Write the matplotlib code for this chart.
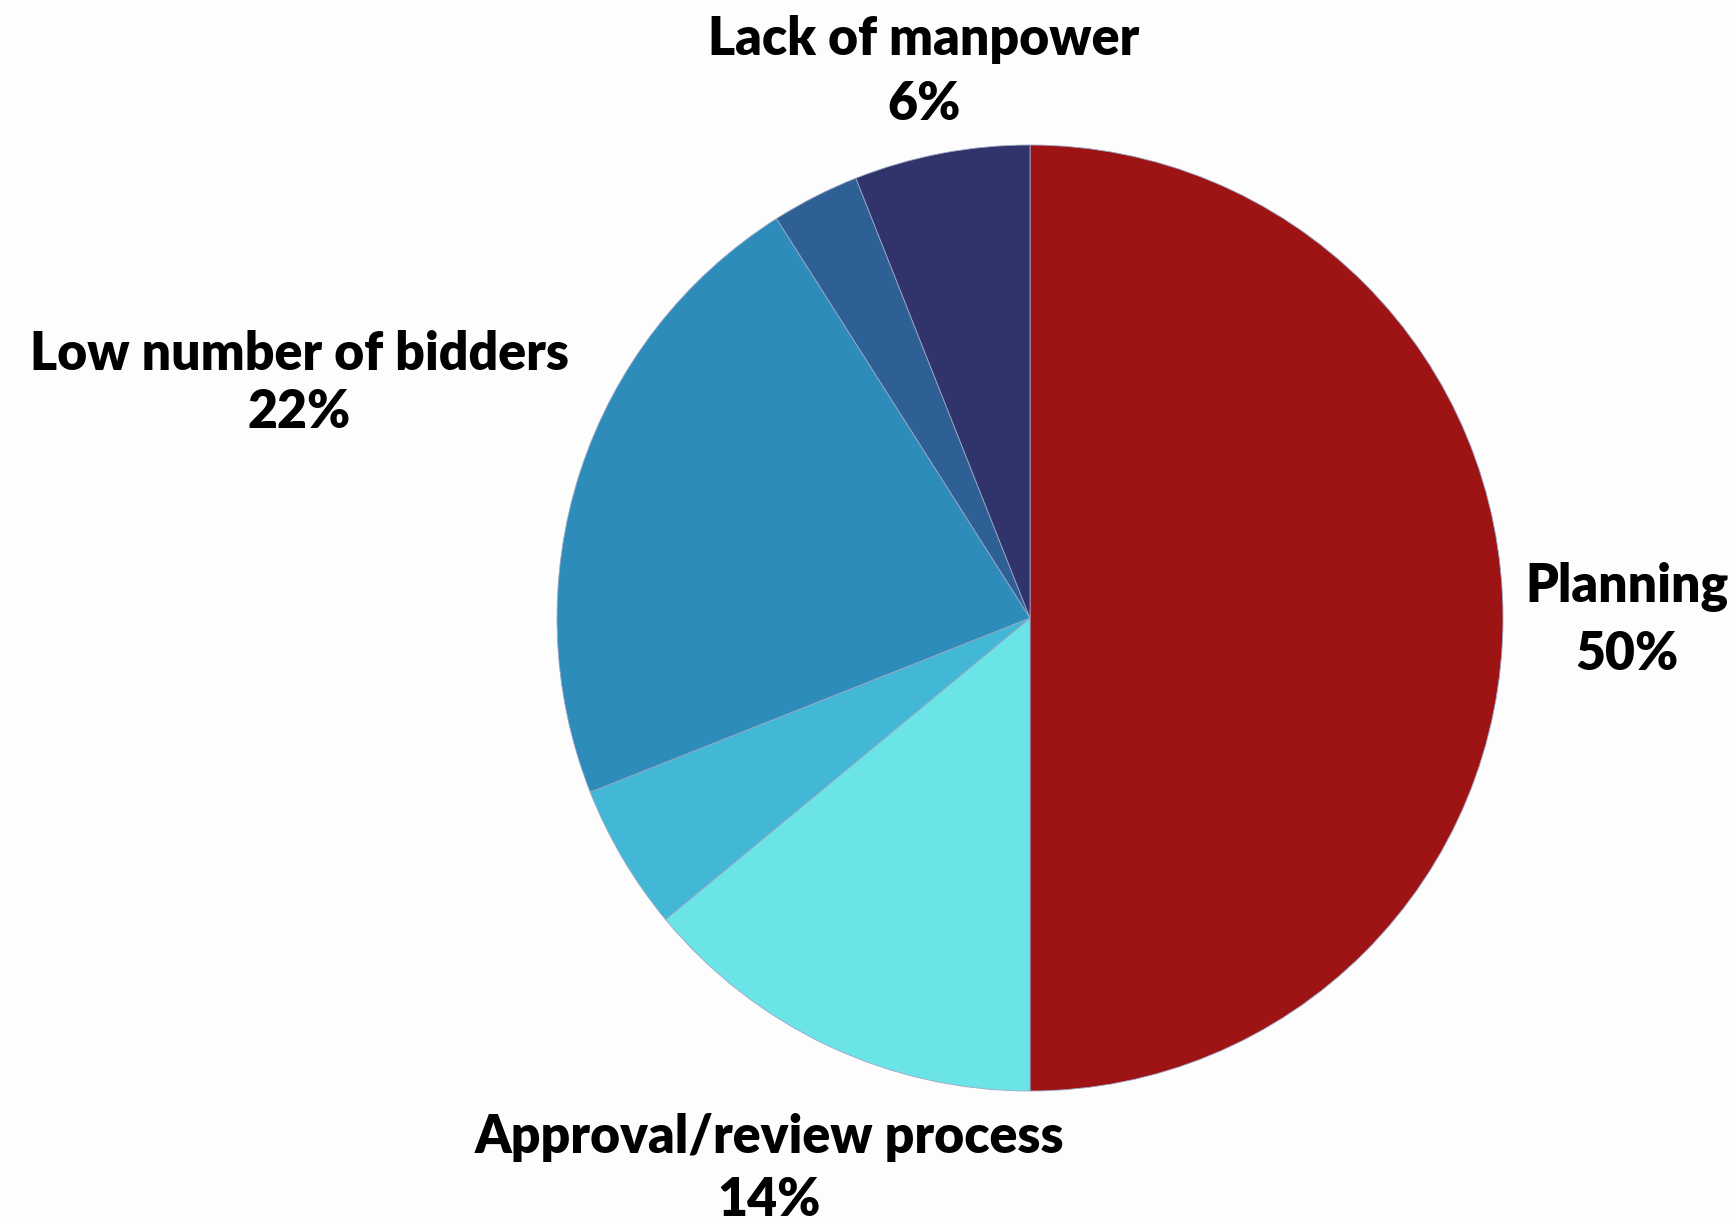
import matplotlib
matplotlib.use("Agg")
import matplotlib.pyplot as plt

# Data (clockwise from 12 o'clock)
categories = ["Planning", "Approval/review process", "", "Low number of bidders", "", "Lack of manpower"]
values = [50, 14, 5, 22, 3, 6]
pct_labels = ["50%", "14%", "", "22%", "", "6%"]
colors = ["#9E1414", "#6BE4E8", "#42B8D6", "#2E8CBA", "#2E6096", "#31346B"]

W, H = 1736, 1224
fig = plt.figure(figsize=(W / 100, H / 100), dpi=100, facecolor="#FDFDFD")
ax = fig.add_axes([0, 0, 1, 1])
ax.set_facecolor("#FDFDFD")

cx, cy, r = 1030, H - 618, 473
ax.pie(values, colors=colors, startangle=90, counterclock=False,
       center=(cx, cy), radius=r, frame=True,
       wedgeprops=dict(edgecolor="#9aa6c4", linewidth=0.6))
ax.set_xlim(0, W)
ax.set_ylim(0, H)
ax.set_aspect("equal")
ax.axis("off")

# label placement (pixel positions, top-down y)
label_pos = {0: (1627, 587, 655), 1: (769, 1137, 1201), 3: (299, 354, 412), 5: (924, 39, 105)}
font = dict(family=["Lato", "DejaVu Sans"], weight="heavy", fontsize=37.3, color="black",
            ha="center", va="center")
for i, (x, y1, y2) in label_pos.items():
    ax.text(x, H - y1, categories[i], **font)
    ax.text(x, H - y2, pct_labels[i], **font)

fig.savefig("out.png", dpi=100, facecolor=fig.get_facecolor())
